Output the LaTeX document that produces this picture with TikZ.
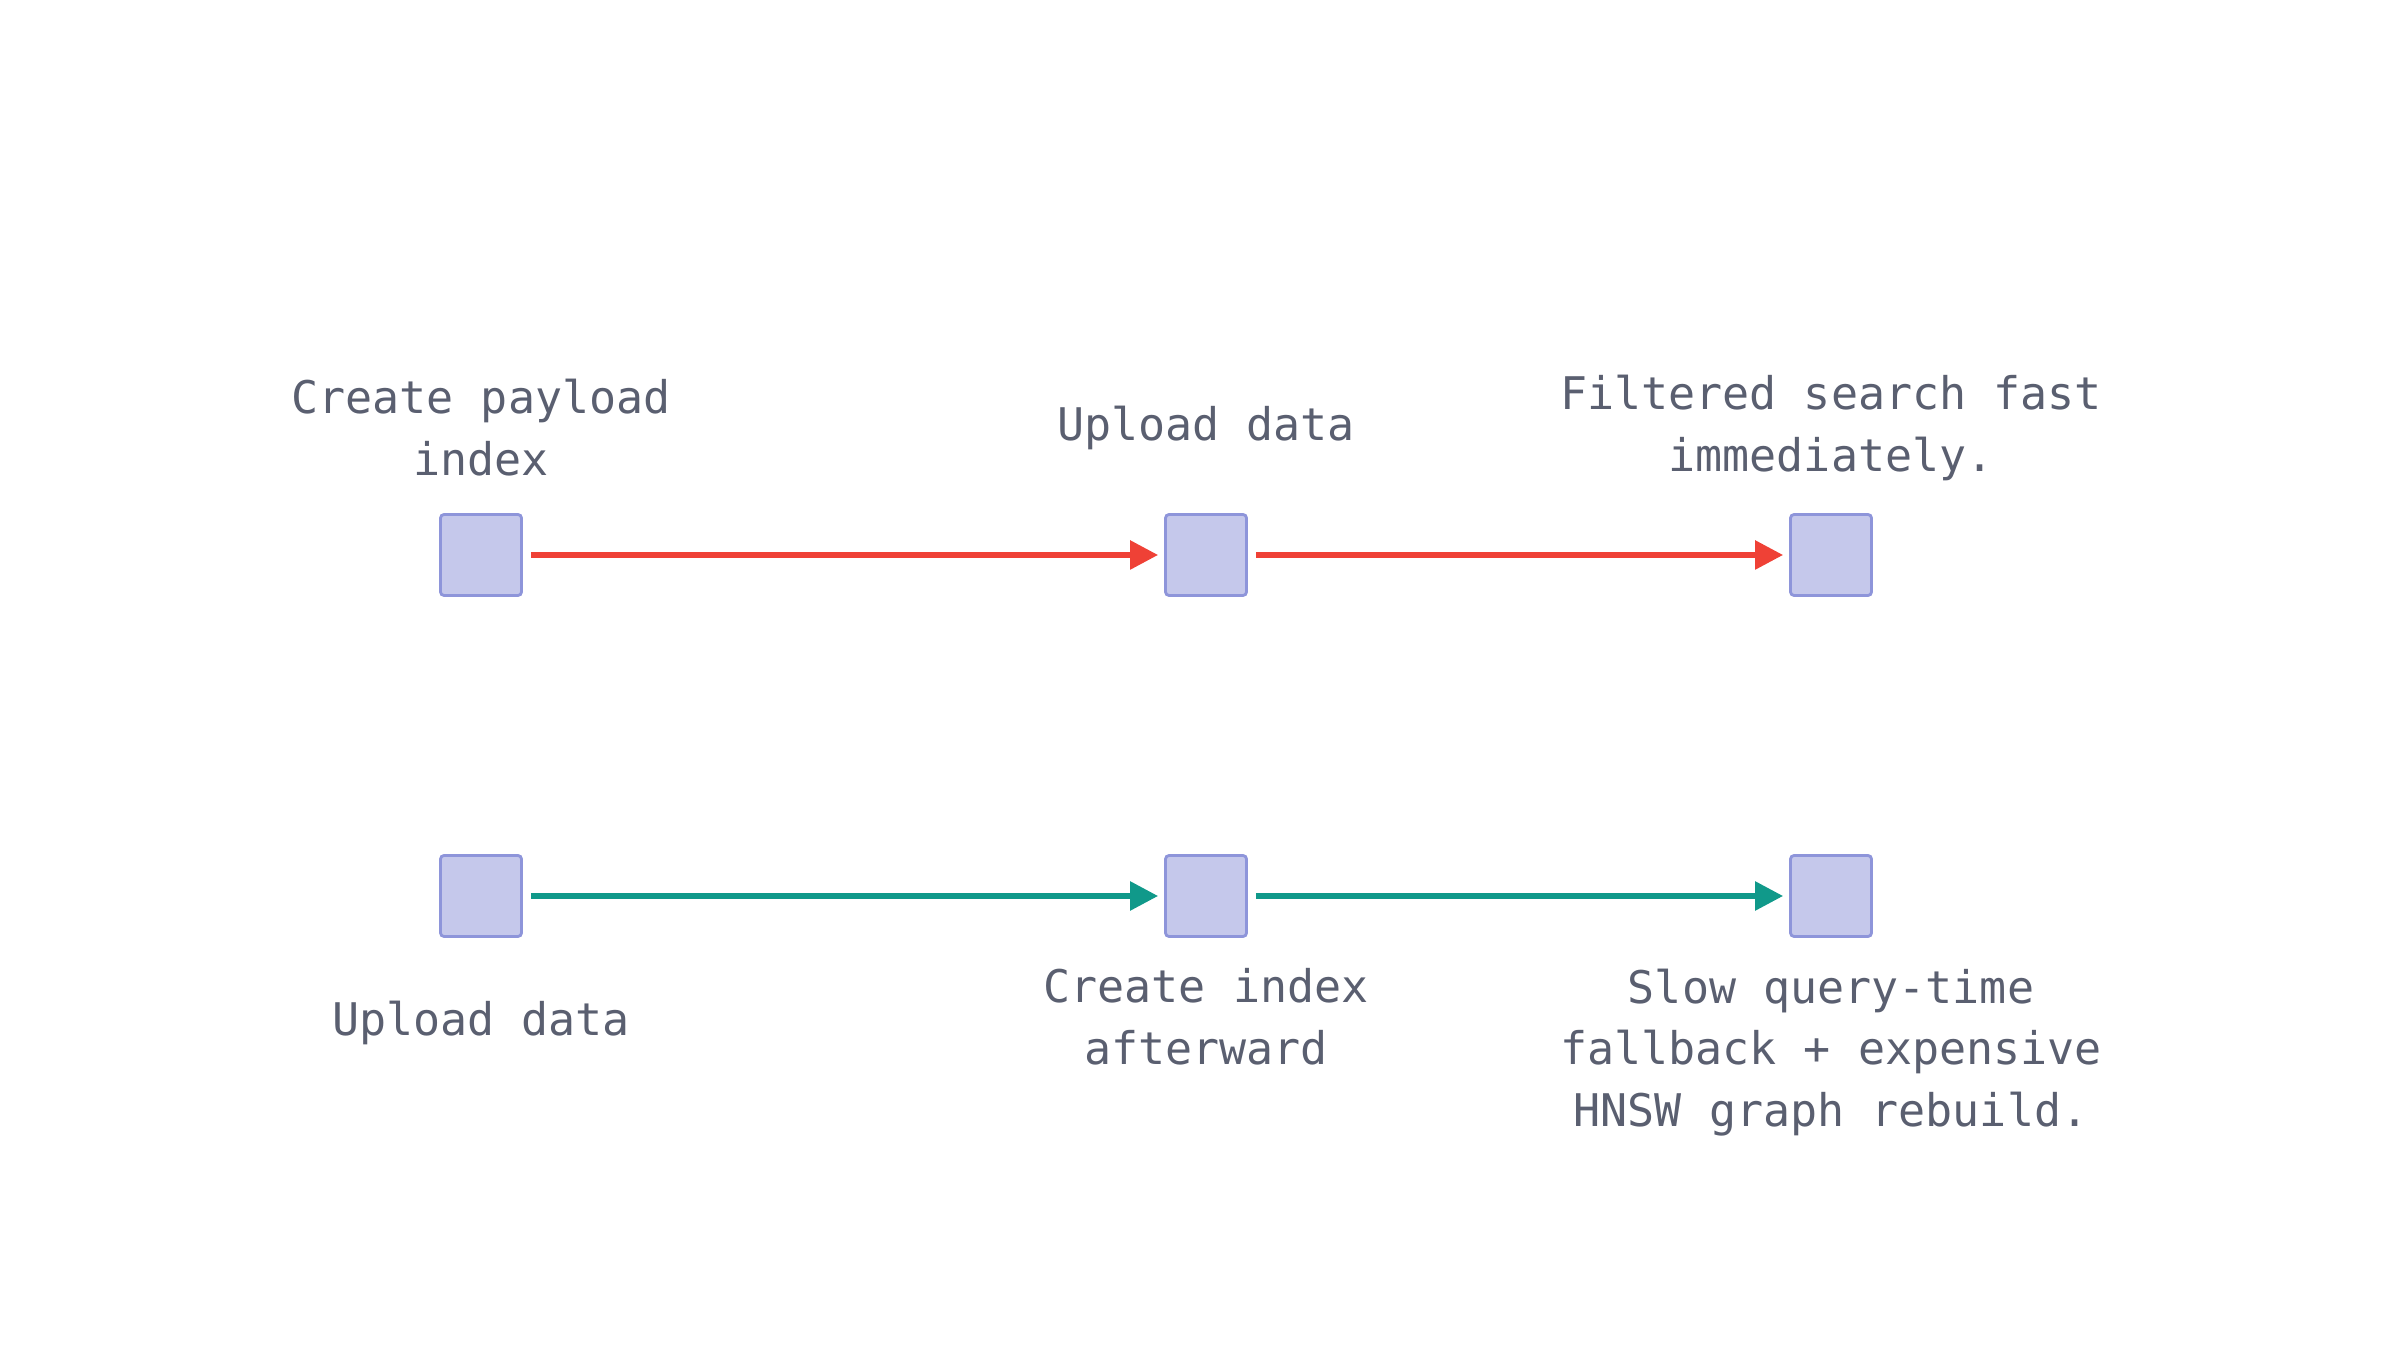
\documentclass[tikz,border=0pt]{standalone}
\usepackage{fontspec}
\setmonofont{DejaVu Sans Mono}
\usetikzlibrary{arrows.meta,positioning}
\definecolor{boxfill}{HTML}{C5C8EB}
\definecolor{boxline}{HTML}{8E95DA}
\definecolor{txtgray}{HTML}{5A5F70}
\definecolor{redline}{HTML}{EF4136}
\definecolor{tealline}{HTML}{10998A}
\tikzset{
  stepbox/.style={draw=boxline, fill=boxfill, line width=0.8pt, rounded corners=1pt, minimum size=0.81cm, inner sep=0pt},
  lbl/.style={font=\ttfamily\fontsize{12.8}{17.6}\selectfont, text=txtgray, align=center, inner sep=0pt},
  flow/.style={line width=1.6pt, -{Triangle[length=0.28cm,width=0.28cm]}, shorten <=0.08cm, shorten >=0.06cm}
}
\begin{document}
\begin{tikzpicture}
\useasboundingbox (0,0) rectangle (24,13.6);
% top row
\node[stepbox] (a1) at (4.81,8.05) {};
\node[stepbox] (a2) at (12.06,8.05) {};
\node[stepbox] (a3) at (18.31,8.05) {};
\node[lbl] (ta1) at ([yshift=1.27cm]a1) {Create payload\\index};
\node[lbl] (ta2) at ([yshift=1.27cm]a2) {Upload data};
\node[lbl] (ta3) at ([yshift=1.27cm]a3) {Filtered search fast\\immediately.};
\draw[flow, redline] (a1) -- (a2);
\draw[flow, redline] (a2) -- (a3);
% bottom row
\node[stepbox] (b1) at (4.81,4.64) {};
\node[stepbox] (b2) at (12.06,4.64) {};
\node[stepbox] (b3) at (18.31,4.64) {};
\node[lbl] (tb1) at ([yshift=-1.27cm]b1) {Upload data};
\node[lbl, anchor=north] (tb2) at ([yshift=-0.72cm]b2) {Create index\\afterward};
\node[lbl, anchor=north] (tb3) at ([yshift=-0.72cm]b3) {Slow query-time\\fallback + expensive\\HNSW graph rebuild.};
\draw[flow, tealline] (b1) -- (b2);
\draw[flow, tealline] (b2) -- (b3);
\end{tikzpicture}
\end{document}
